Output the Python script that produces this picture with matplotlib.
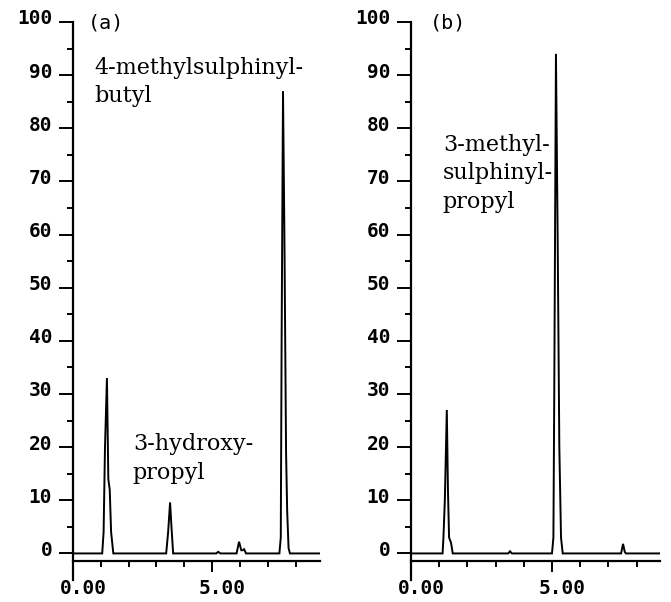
import matplotlib.pyplot as plt
from matplotlib.ticker import FixedLocator
import matplotlib.transforms as mtransforms

# trace (a): retention time vs. response
time_a = [0.0, 1.05, 1.10, 1.15, 1.22, 1.27, 1.32, 1.37, 1.45,
          3.35, 3.42, 3.49, 3.54, 3.60,
          5.15, 5.22, 5.30,
          5.88, 5.97, 6.05, 6.10, 6.15, 6.22,
          7.42, 7.47, 7.50, 7.55, 7.60, 7.66, 7.70, 7.75, 7.80, 8.88]
resp_a = [0.0, 0.0, 4.0, 20.0, 33.0, 14.0, 12.0, 4.0, 0.0,
          0.0, 4.0, 9.6, 5.0, 0.0,
          0.0, 0.3, 0.0,
          0.0, 2.2, 0.6, 0.6, 0.8, 0.0,
          0.0, 3.0, 40.0, 87.0, 60.0, 19.0, 8.0, 1.0, 0.0, 0.0]

# trace (b)
time_b = [0.0, 1.12, 1.15, 1.20, 1.27, 1.31, 1.35, 1.42, 1.48,
          3.45, 3.51, 3.58,
          5.00, 5.05, 5.08, 5.14, 5.20, 5.26, 5.32, 5.38,
          7.45, 7.52, 7.58, 7.62, 8.83]
resp_b = [0.0, 0.0, 3.0, 10.0, 27.0, 12.0, 3.0, 2.0, 0.0,
          0.0, 0.4, 0.0,
          0.0, 3.0, 30.0, 94.0, 60.0, 20.0, 3.0, 0.0,
          0.0, 1.8, 0.3, 0.0, 0.0]

y_major = list(range(0, 101, 10))
y_minor = list(range(5, 100, 10))
x_major = [0, 5]
x_minor = [1, 2, 3, 4, 6, 7, 8]
x_labels = ["0.00", "5.00"]

labels_a = [("(a)", 0.52, 99.8, "mono"),
            ("4-methylsulphinyl-\nbutyl", 0.78, 93.5, "serif"),
            ("3-hydroxy-\npropyl", 2.15, 22.6, "serif")]
labels_b = [("(b)", 0.68, 99.8, "mono"),
            ("3-methyl-\nsulphinyl-\npropyl", 1.13, 79.0, "serif")]

W, H = 671, 602
fig = plt.figure(figsize=(W / 100, H / 100), dpi=100)

mono = "DejaVu Sans Mono"
serif = "DejaVu Serif"


def setup(ax, xmax):
    ax.set_xlim(0, xmax)
    ax.set_ylim(-5, 100)
    for s in ["top", "right"]:
        ax.spines[s].set_visible(False)
    ax.spines["left"].set_linewidth(1.6)
    ax.spines["bottom"].set_linewidth(1.6)
    ax.spines["bottom"].set_position(("data", -1.4))
    ax.spines["bottom"].set_bounds(0, xmax)
    ax.yaxis.set_major_locator(FixedLocator(y_major))
    ax.yaxis.set_minor_locator(FixedLocator(y_minor))
    ax.xaxis.set_major_locator(FixedLocator(x_major))
    ax.xaxis.set_minor_locator(FixedLocator(x_minor))
    ax.set_xticklabels(x_labels)
    ax.tick_params(axis="y", which="major", length=10, width=1.4, pad=5,
                   labelsize=14)
    ax.tick_params(axis="y", which="minor", length=4, width=1.4)
    ax.tick_params(axis="x", which="major", length=8, width=1.4, pad=5,
                   labelsize=14)
    ax.tick_params(axis="x", which="minor", length=4.5, width=1.4)
    for lab in ax.get_xticklabels() + ax.get_yticklabels():
        lab.set_family(mono)
        lab.set_fontweight("bold")
    offx = mtransforms.ScaledTranslation(10 / 100, 0, fig.dpi_scale_trans)
    for lab in ax.get_xticklabels():
        lab.set_transform(lab.get_transform() + offx)
    offy = mtransforms.ScaledTranslation(0, 5 / 100, fig.dpi_scale_trans)
    for lab in ax.get_yticklabels():
        lab.set_transform(lab.get_transform() + offy)


def draw_labels(ax, labels):
    for txt, x, y, kind in labels:
        if kind == "mono":
            ax.text(x, y, txt, family=mono, fontsize=14.5, va="center",
                    ha="left")
        else:
            ax.text(x, y, txt, family=serif, fontsize=16, va="top",
                    ha="left", linespacing=1.4)


y0 = (H - 580) / H
hgt = (580 - 22) / H

ax_a = fig.add_axes([73 / W, y0, (320 - 73) / W, hgt])
setup(ax_a, 8.88)
ax_a.plot(time_a, resp_a, color="black", lw=1.4, solid_joinstyle="miter")
draw_labels(ax_a, labels_a)

ax_b = fig.add_axes([411 / W, y0, (660 - 411) / W, hgt])
setup(ax_b, 8.83)
ax_b.plot(time_b, resp_b, color="black", lw=1.4, solid_joinstyle="miter")
draw_labels(ax_b, labels_b)

fig.savefig("out.png", dpi=100)
